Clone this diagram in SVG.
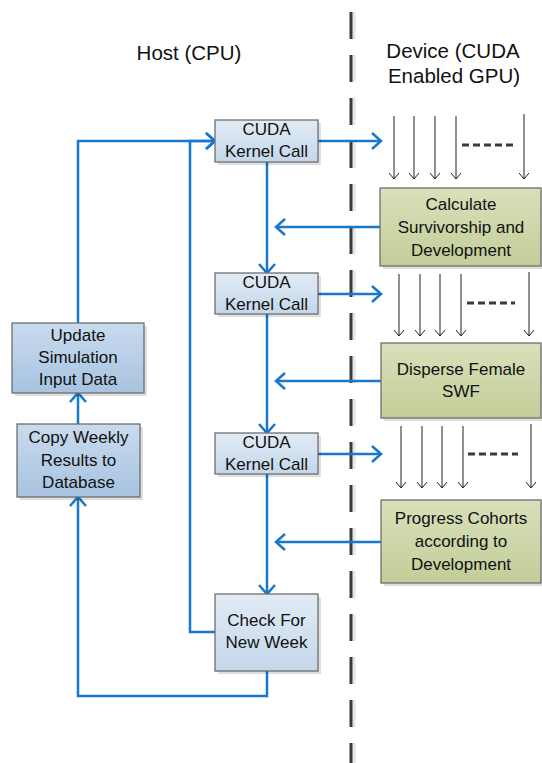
<svg xmlns="http://www.w3.org/2000/svg" width="542" height="763" viewBox="0 0 542 763">
<style>
.t{font-family:"Liberation Sans",Arial,sans-serif;font-size:17px;fill:#111;text-anchor:middle}
.h{font-family:"Liberation Sans",Arial,sans-serif;font-size:20.5px;fill:#111;text-anchor:middle}
.box{stroke:#6e6e6e;stroke-width:1.3}
.sh{fill:#000;opacity:0.13}
.c{fill:none;stroke:#1878cc;stroke-width:2.5}
.k{fill:none;stroke:#222;stroke-width:1}
.dd{fill:none;stroke:#3a3a3a;stroke-width:3;stroke-dasharray:7 4}
</style>
<defs>
<linearGradient id="gk" x1="0" y1="0" x2="0" y2="1"><stop offset="0" stop-color="#e2ebf5"/><stop offset="1" stop-color="#c4d7ea"/></linearGradient>
<linearGradient id="gu" x1="0" y1="0" x2="0" y2="1"><stop offset="0" stop-color="#c9dbee"/><stop offset="1" stop-color="#a7c3e0"/></linearGradient>
<linearGradient id="gg" x1="0" y1="0" x2="0" y2="1"><stop offset="0" stop-color="#d9e0bb"/><stop offset="1" stop-color="#c3cd98"/></linearGradient>
<marker id="a" markerWidth="14" markerHeight="20" refX="11" refY="9" orient="auto" markerUnits="userSpaceOnUse"><path d="M2,1 L11,9 L2,17" fill="none" stroke="#1878cc" stroke-width="2.5"/></marker>
</defs>

<g id="divider">
<line x1="354" y1="12" x2="354" y2="763" stroke="#000" stroke-opacity="0.1" stroke-width="3" stroke-dasharray="27 16"/>
<line x1="351" y1="12" x2="351" y2="763" stroke="#3a3a3a" stroke-width="3" stroke-dasharray="27 16"/>
</g>

<text class="h" x="189" y="60">Host (CPU)</text>
<text class="h" x="453" y="58">Device (CUDA</text>
<text class="h" x="454" y="83">Enabled GPU)</text>

<g id="connectors">
<path class="c" d="M318,141 H381" marker-end="url(#a)"/>
<path class="c" d="M267,162 V273" marker-end="url(#a)"/>
<path class="c" d="M380,227 H276" marker-end="url(#a)"/>
<path class="c" d="M318,294 H381" marker-end="url(#a)"/>
<path class="c" d="M267,314 V433" marker-end="url(#a)"/>
<path class="c" d="M381,381 H276" marker-end="url(#a)"/>
<path class="c" d="M318,454 H381" marker-end="url(#a)"/>
<path class="c" d="M267,474 V594" marker-end="url(#a)"/>
<path class="c" d="M381,542 H276" marker-end="url(#a)"/>
<path class="c" d="M215,632 H190 V141 H215" marker-end="url(#a)"/>
<path class="c" d="M267,671 V696 H78 V497" marker-end="url(#a)"/>
<path class="c" d="M78,424 V393" marker-end="url(#a)"/>
<path class="c" d="M78,323 V141 H215" marker-end="url(#a)"/>
</g>

<g id="threads1">
<path class="k" d="M394,116 V179 M414,116 V179 M435,116 V179 M456,116 V179 M524,114 V179"/>
<path class="k" d="M389,173 L394,179 L399,173 M409,173 L414,179 L419,173 M430,173 L435,179 L440,173 M451,173 L456,179 L461,173 M519,173 L524,179 L529,173"/>
<path class="dd" d="M462,145 H513"/>
</g>
<g id="threads2">
<path class="k" d="M399,274 V336 M420,274 V336 M440,274 V336 M461,274 V336 M529,272 V336"/>
<path class="k" d="M394,330 L399,336 L404,330 M415,330 L420,336 L425,330 M435,330 L440,336 L445,330 M456,330 L461,336 L466,330 M524,330 L529,336 L534,330"/>
<path class="dd" d="M467,303 H515"/>
</g>
<g id="threads3">
<path class="k" d="M401,426 V488 M422,426 V488 M442,426 V488 M463,426 V488 M531,424 V488"/>
<path class="k" d="M396,482 L401,488 L406,482 M417,482 L422,488 L427,482 M437,482 L442,488 L447,482 M458,482 L463,488 L468,482 M526,482 L531,488 L536,482"/>
<path class="dd" d="M468,454 H518"/>
</g>

<g id="cuda1"><rect class="sh" x="218" y="123" width="103" height="42"/><rect class="box" x="215" y="120" width="103" height="42" fill="url(#gk)"/><text class="t" x="266.5" y="135">CUDA</text><text class="t" x="266.5" y="157">Kernel Call</text></g>
<g id="cuda2"><rect class="sh" x="218" y="276" width="103" height="41"/><rect class="box" x="215" y="273" width="103" height="41" fill="url(#gk)"/><text class="t" x="266.5" y="288">CUDA</text><text class="t" x="266.5" y="310">Kernel Call</text></g>
<g id="cuda3"><rect class="sh" x="218" y="436" width="103" height="41"/><rect class="box" x="215" y="433" width="103" height="41" fill="url(#gk)"/><text class="t" x="266.5" y="448">CUDA</text><text class="t" x="266.5" y="470">Kernel Call</text></g>
<g id="check"><rect class="sh" x="218" y="597" width="103" height="77"/><rect class="box" x="215" y="594" width="103" height="77" fill="url(#gk)"/><text class="t" x="266.5" y="626">Check For</text><text class="t" x="266.5" y="648">New Week</text></g>
<g id="update"><rect class="sh" x="15" y="326" width="132" height="70"/><rect class="box" x="12" y="323" width="132" height="70" fill="url(#gu)"/><text class="t" x="78" y="341">Update</text><text class="t" x="78" y="363">Simulation</text><text class="t" x="78" y="385">Input Data</text></g>
<g id="copy"><rect class="sh" x="20" y="427" width="123" height="73"/><rect class="box" x="17" y="424" width="123" height="73" fill="url(#gu)"/><text class="t" x="78.5" y="443">Copy Weekly</text><text class="t" x="78.5" y="466">Results to</text><text class="t" x="78.5" y="488">Database</text></g>
<g id="calc"><rect class="sh" x="383" y="191" width="161" height="78"/><rect class="box" x="380" y="188" width="161" height="78" fill="url(#gg)"/><text class="t" x="461" y="210">Calculate</text><text class="t" x="461" y="233">Survivorship and</text><text class="t" x="461" y="256">Development</text></g>
<g id="disperse"><rect class="sh" x="384" y="346" width="160" height="75"/><rect class="box" x="381" y="343" width="160" height="75" fill="url(#gg)"/><text class="t" x="461" y="375">Disperse Female</text><text class="t" x="461" y="397">SWF</text></g>
<g id="progress"><rect class="sh" x="384" y="503" width="160" height="83"/><rect class="box" x="381" y="500" width="160" height="83" fill="url(#gg)"/><text class="t" x="461" y="524">Progress Cohorts</text><text class="t" x="461" y="547">according to</text><text class="t" x="461" y="570">Development</text></g>
</svg>
